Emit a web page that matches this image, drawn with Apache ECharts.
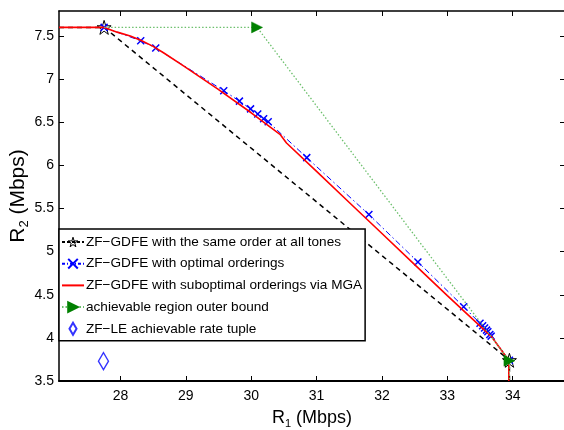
<!DOCTYPE html>
<html>
<head>
<meta charset="utf-8">
<script src="https://cdn.jsdelivr.net/npm/echarts@6/dist/echarts.min.js"></script>
<style>html,body{margin:0;padding:0;background:#fff}#c{width:564px;height:430px}</style>
</head>
<body>
<div id="c"></div>
<script>
// ---- data ----
const xTicks = [28, 29, 30, 31, 32, 33, 34];
const yTicks = [3.5, 4, 4.5, 5, 5.5, 6, 6.5, 7, 7.5];
const xRange = [27.06, 34.80];
const yRange = [3.5, 7.79];

const seriesNames = [
  'ZF\u2212GDFE with the same order at all tones',
  'ZF\u2212GDFE with optimal orderings',
  'ZF\u2212GDFE with suboptimal orderings via MGA',
  'achievable region outer bound',
  'ZF\u2212LE achievable rate tuple'
];

// same order at all tones (star markers on corner points)
const sameOrderPts = [[27.06, 7.60], [27.75, 7.60], [33.95, 3.74], [33.95, 3.5]];
const sameOrderMarked = [false, true, true, false];

// optimal orderings
const optimalPts = [
  [27.75, 7.60], [28.31, 7.445], [28.54, 7.36], [29.58, 6.866], [29.82, 6.745],
  [29.99, 6.655], [30.10, 6.595], [30.19, 6.54], [30.26, 6.505], [30.85, 6.09],
  [31.80, 5.43], [32.55, 4.88], [33.25, 4.36], [33.50, 4.17], [33.54, 4.14],
  [33.57, 4.115], [33.60, 4.09], [33.62, 4.07], [33.65, 4.04], [33.67, 4.02],
  [33.95, 3.74]
];

// suboptimal orderings via MGA
const mgaPts = [
  [27.06, 7.60], [27.75, 7.60], [27.95, 7.545], [28.15, 7.50], [28.31, 7.45],
  [28.50, 7.38], [28.67, 7.30], [28.97, 7.15], [29.48, 6.89], [30.00, 6.61],
  [30.44, 6.36], [30.54, 6.26], [31.00, 5.93], [31.50, 5.57], [32.00, 5.21],
  [32.50, 4.85], [33.00, 4.49], [33.51, 4.13], [33.68, 4.01], [33.94, 3.74],
  [33.94, 3.5]
];

// outer bound (triangle markers on corner points)
const outerPts = [[27.75, 7.60], [30.09, 7.60], [33.95, 3.735], [33.95, 3.5]];
const outerMarked = [false, true, true, false];

// ZF-LE tuple
const zfLePts = [[27.74, 3.73]];

// ---- chart ----
const starPath = 'path://M50,0 L61,35 L98,35 L68,57 L79,91 L50,70 L21,91 L32,57 L2,35 L39,35 Z';
const xPath = 'path://M0,0 L10,10 M10,0 L0,10';
const diamondPath = 'path://M5,0 L10,8.5 L5,17 L0,8.5 Z';
const FONT = 'Liberation Sans';

function marked(pts, flags) {
  return pts.map((p, i) => flags[i] ? { value: p } : { value: p, symbol: 'none' });
}

const chart = echarts.init(document.getElementById('c'), null, { renderer: 'canvas' });
const tickStyle = { show: true, inside: true, length: 5, lineStyle: { color: '#000', width: 1 } };

chart.setOption({
  animation: false,
  backgroundColor: '#fff',
  textStyle: { fontFamily: FONT },
  grid: { left: 59, top: 11, width: 506, height: 370, containLabel: false, outerBoundsMode: 'none' },
  xAxis: [{
    type: 'value', min: xRange[0], max: xRange[1], position: 'bottom',
    axisLine: { show: true, onZero: false, lineStyle: { color: '#000', width: 2 } },
    axisTick: Object.assign({ customValues: xTicks }, tickStyle),
    axisLabel: { customValues: xTicks, color: '#000', fontSize: 14, fontFamily: FONT, margin: 8 },
    splitLine: { show: false },
    name: 'R{sub|1} (Mbps)', nameLocation: 'middle', nameGap: 27,
    nameTextStyle: { color: '#000', fontSize: 18, fontFamily: FONT,
      rich: { sub: { fontSize: 11, fontFamily: FONT, color: '#000', padding: [10, 0, 0, 0] } } }
  }, {
    type: 'value', min: xRange[0], max: xRange[1], position: 'top',
    axisLine: { show: true, onZero: false, lineStyle: { color: '#000', width: 1.5 } },
    axisTick: Object.assign({ customValues: xTicks }, tickStyle),
    axisLabel: { show: false }, splitLine: { show: false }
  }],
  yAxis: [{
    type: 'value', min: yRange[0], max: yRange[1], position: 'left',
    axisLine: { show: true, onZero: false, lineStyle: { color: '#000', width: 1.5 } },
    axisTick: Object.assign({ customValues: yTicks }, tickStyle),
    axisLabel: { customValues: yTicks, color: '#000', fontSize: 14, fontFamily: FONT, margin: 5 },
    splitLine: { show: false },
    name: 'R{sub|2} (Mbps)', nameLocation: 'middle', nameGap: 41, nameRotate: 90,
    nameMoveOverlap: false,
    nameTextStyle: { color: '#000', fontSize: 21, fontFamily: FONT, verticalAlign: 'middle',
      rich: { sub: { fontSize: 13, fontFamily: FONT, color: '#000', padding: [12, 0, 0, 0] } } }
  }, {
    type: 'value', min: yRange[0], max: yRange[1], position: 'right',
    axisLine: { show: true, onZero: false, lineStyle: { color: '#000', width: 1.5 } },
    axisTick: Object.assign({ customValues: yTicks }, tickStyle),
    axisLabel: { show: false }, splitLine: { show: false }
  }],
  legend: {
    orient: 'vertical', left: 59, top: 229,
    padding: [6, 3, 5, 2], itemGap: 7.7, itemWidth: 22, itemHeight: 12,
    backgroundColor: '#fff', borderColor: '#000', borderWidth: 1.5,
    textStyle: { color: '#000', fontSize: 13.6, fontFamily: FONT, padding: [0, 0, 0, -3] },
    data: [
      { name: seriesNames[0], lineStyle: { type: [3, 2] },
        itemStyle: { color: 'rgba(0,0,0,0)', borderColor: '#000', borderWidth: 1 } },
      { name: seriesNames[1], lineStyle: { type: [3, 2, 1, 2] } },
      { name: seriesNames[2], itemStyle: { color: 'rgba(0,0,0,0)', borderColor: 'rgba(0,0,0,0)', borderWidth: 0 } },
      { name: seriesNames[3], lineStyle: { type: [1.5, 2] } },
      { name: seriesNames[4], icon: diamondPath }
    ]
  },
  series: [{
    name: seriesNames[0], type: 'line', data: marked(sameOrderPts, sameOrderMarked),
    symbol: starPath, symbolSize: 14, showAllSymbol: true,
    lineStyle: { color: '#000', width: 1.5, type: [5, 4] },
    itemStyle: { color: 'rgba(0,0,0,0)', borderColor: '#000', borderWidth: 1 },
    z: 2
  }, {
    name: seriesNames[1], type: 'line', data: optimalPts,
    symbol: xPath, symbolSize: 7, showAllSymbol: true,
    lineStyle: { color: '#0000ff', width: 1, type: [6, 3, 1.5, 3] },
    itemStyle: { color: '#0000ff', borderColor: '#0000ff', borderWidth: 1.5 },
    z: 3
  }, {
    name: seriesNames[2], type: 'line', data: mgaPts, symbol: 'none',
    lineStyle: { color: '#ff0000', width: 1.6 },
    itemStyle: { color: '#ff0000' },
    z: 4
  }, {
    name: seriesNames[3], type: 'line', data: marked(outerPts, outerMarked),
    symbol: 'triangle', symbolRotate: -90, symbolSize: 11, showAllSymbol: true,
    lineStyle: { color: '#6cbf6c', width: 1.3, type: [1.5, 2] },
    itemStyle: { color: '#008000', borderColor: '#008000', borderWidth: 0.5 },
    z: 5
  }, {
    name: seriesNames[4], type: 'scatter', data: zfLePts,
    symbol: 'diamond', symbolSize: [10, 17],
    itemStyle: { color: 'rgba(255,255,255,0)', borderColor: '#0000ff', borderWidth: 1.5 },
    z: 6
  }]
});
</script>
</body>
</html>
